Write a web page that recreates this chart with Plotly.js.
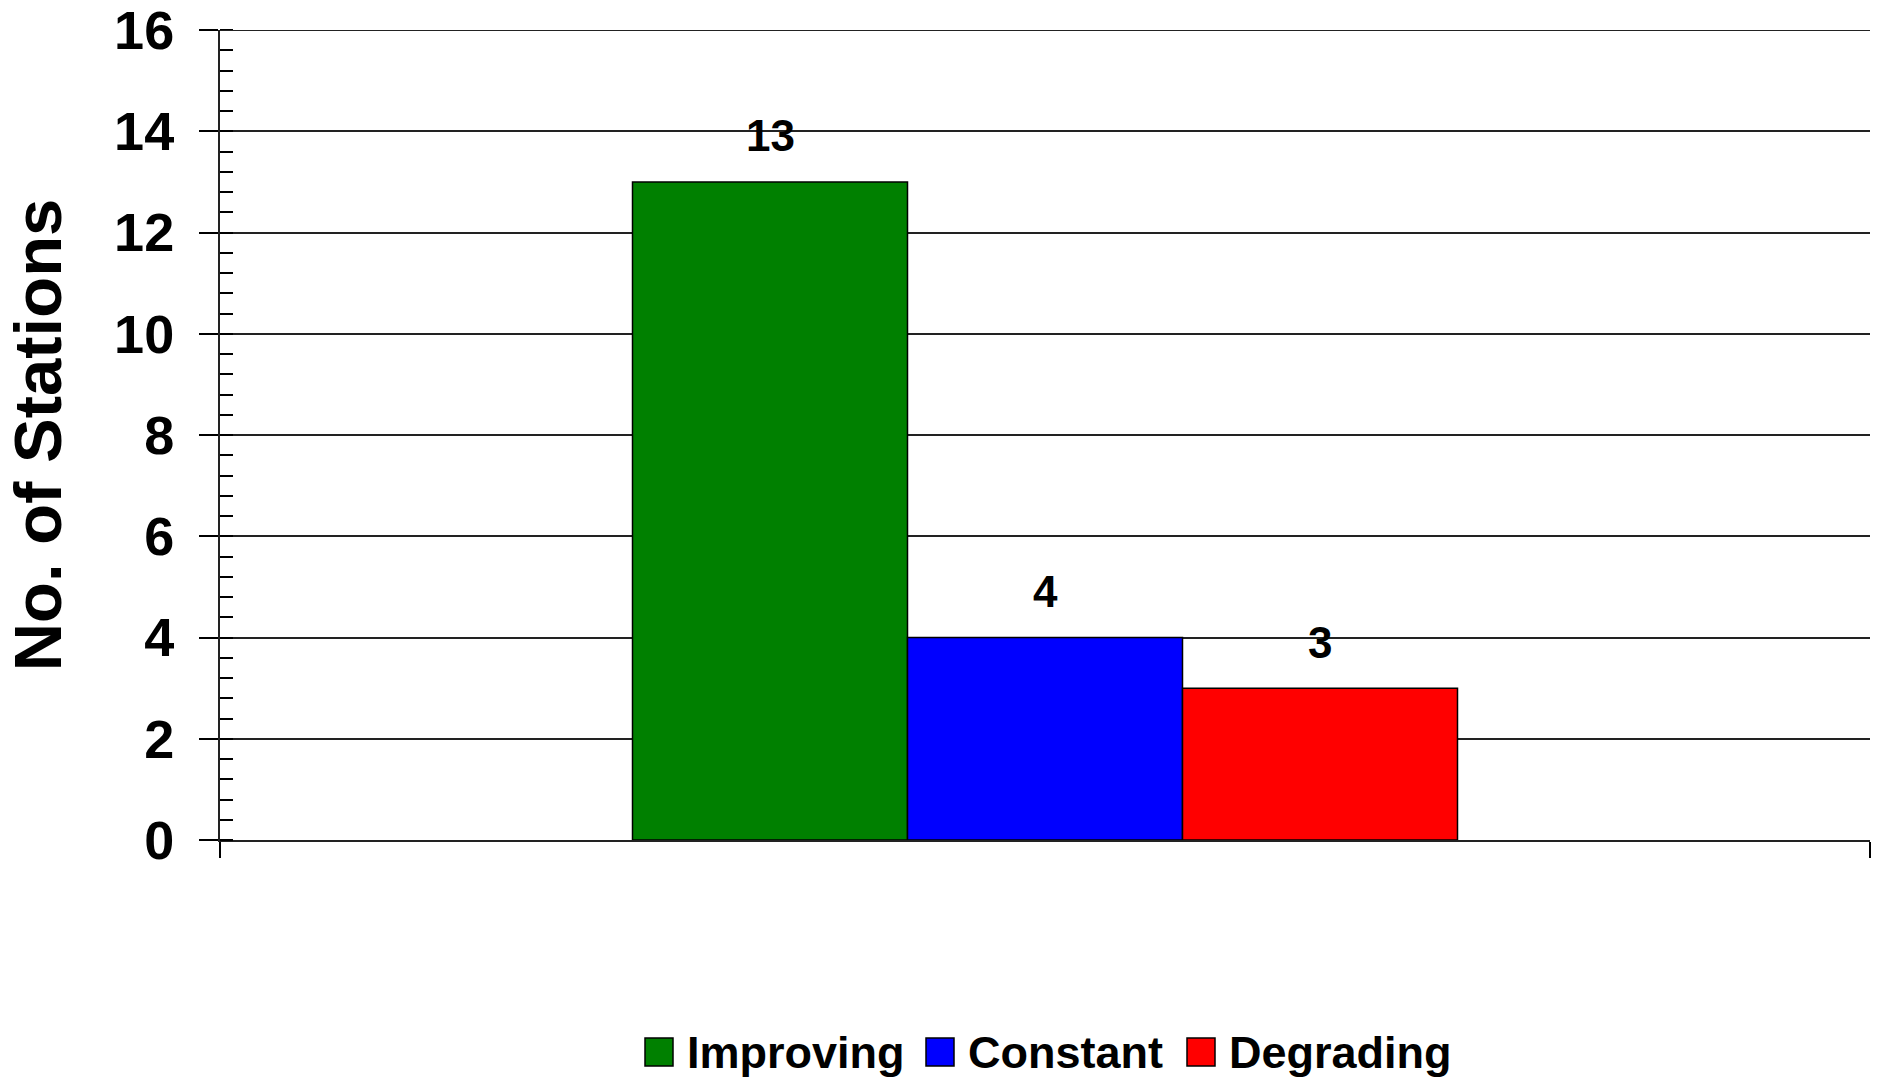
<!DOCTYPE html>
<html>
<head>
<meta charset="utf-8">
<script src="https://cdn.plot.ly/plotly-3.0.1.min.js"></script>
<style>html,body{margin:0;padding:0;background:#fff;}#chart{width:1879px;height:1079px;}</style>
</head>
<body>
<div id="chart"></div>
<script>
// ---- data ----
const seriesNames = ["Improving", "Constant", "Degrading"];
const seriesValues = [13, 4, 3];
const seriesColors = ["#008000", "#0000FF", "#FF0000"];
const yTickValues = [0, 2, 4, 6, 8, 10, 12, 14, 16];
const yTitle = "No. of Stations";

// ---- layout constants ----
const W = 1879, H = 1079;
const M = {l: 220, r: 9, t: 30, b: 239};
const plotW = W - M.l - M.r, plotH = H - M.t - M.b;
const FONT = "Liberation Sans, Arial, sans-serif";
const bargap = 0.5;
// legend layout in pixels (box left)
const legendBoxLeft = [645, 926, 1187];
const legendBoxSize = 28;
const legendCenterY = 1052;

const traces = seriesNames.map((n, i) => ({
  type: "bar",
  name: n,
  x: [0],
  y: [seriesValues[i]],
  marker: {color: seriesColors[i], line: {color: "#000", width: 1.5}},
  showlegend: false,
  hoverinfo: "y"
}));

const nS = seriesNames.length;
const groupW = 1 - bargap;
const annotations = seriesValues.map((v, i) => ({
  x: -groupW / 2 + groupW / nS * (i + 0.5),
  y: v,
  xref: "x", yref: "y",
  text: String(v),
  showarrow: false,
  yanchor: "middle",
  yshift: 46,
  font: {family: FONT, size: 44, color: "#000", weight: "bold"}
}));

const px2x = p => (p - M.l) / plotW;
const px2y = p => (H - M.b - p) / plotH;
const yMax = Math.max(...yTickValues);
const shapes = [{
  // top gridline (at range edge, not drawn by Plotly's grid)
  type: "line", xref: "paper", yref: "y",
  x0: 0, x1: 1, y0: yMax, y1: yMax,
  line: {color: "#222", width: 2}
}];
seriesNames.forEach((n, i) => {
  const x0 = legendBoxLeft[i];
  shapes.push({
    type: "rect", xref: "paper", yref: "paper",
    x0: px2x(x0), x1: px2x(x0 + legendBoxSize),
    y0: px2y(legendCenterY + legendBoxSize / 2), y1: px2y(legendCenterY - legendBoxSize / 2),
    fillcolor: seriesColors[i], line: {color: "#000", width: 1.5}
  });
  annotations.push({
    xref: "paper", yref: "paper",
    x: px2x(x0 + legendBoxSize + 12), y: px2y(legendCenterY),
    xanchor: "left", yanchor: "middle",
    text: n, showarrow: false,
    font: {family: FONT, size: 45, color: "#000", weight: "bold"}
  });
});

const layout = {
  width: W, height: H,
  margin: M,
  paper_bgcolor: "#fff", plot_bgcolor: "#fff",
  barmode: "group",
  bargap: bargap,
  bargroupgap: 0,
  showlegend: false,
  xaxis: {
    type: "linear",
    range: [-0.5, 0.5],
    tickmode: "array",
    tickvals: [-0.5, 0.5],
    showticklabels: false,
    ticks: "outside", ticklen: 16, tickwidth: 2, tickcolor: "#000",
    showgrid: false, zeroline: false,
    showline: true, linecolor: "#222", linewidth: 2,
    fixedrange: true
  },
  yaxis: {
    range: [0, 16],
    tickmode: "array",
    tickvals: yTickValues,
    ticktext: yTickValues.map(String),
    ticks: "outside", ticklen: 19, tickwidth: 2, tickcolor: "#000",
    ticklabelstandoff: 14,
    ticklabeloverflow: "allow",
    tickfont: {family: FONT, size: 54, color: "#000", weight: "bold"},
    minor: {dtick: 0.4, tick0: 0, ticks: "inside", ticklen: 13, tickwidth: 2, tickcolor: "#000", showgrid: false},
    showgrid: true, gridcolor: "#222", gridwidth: 2,
    zeroline: false,
    showline: true, linecolor: "#222", linewidth: 2,
    title: {text: yTitle, standoff: 36, font: {family: FONT, size: 67, color: "#000", weight: "bold"}},
    fixedrange: true
  },
  annotations: annotations,
  shapes: shapes
};

Plotly.newPlot("chart", traces, layout, {displayModeBar: false, staticPlot: true});
</script>
</body>
</html>
